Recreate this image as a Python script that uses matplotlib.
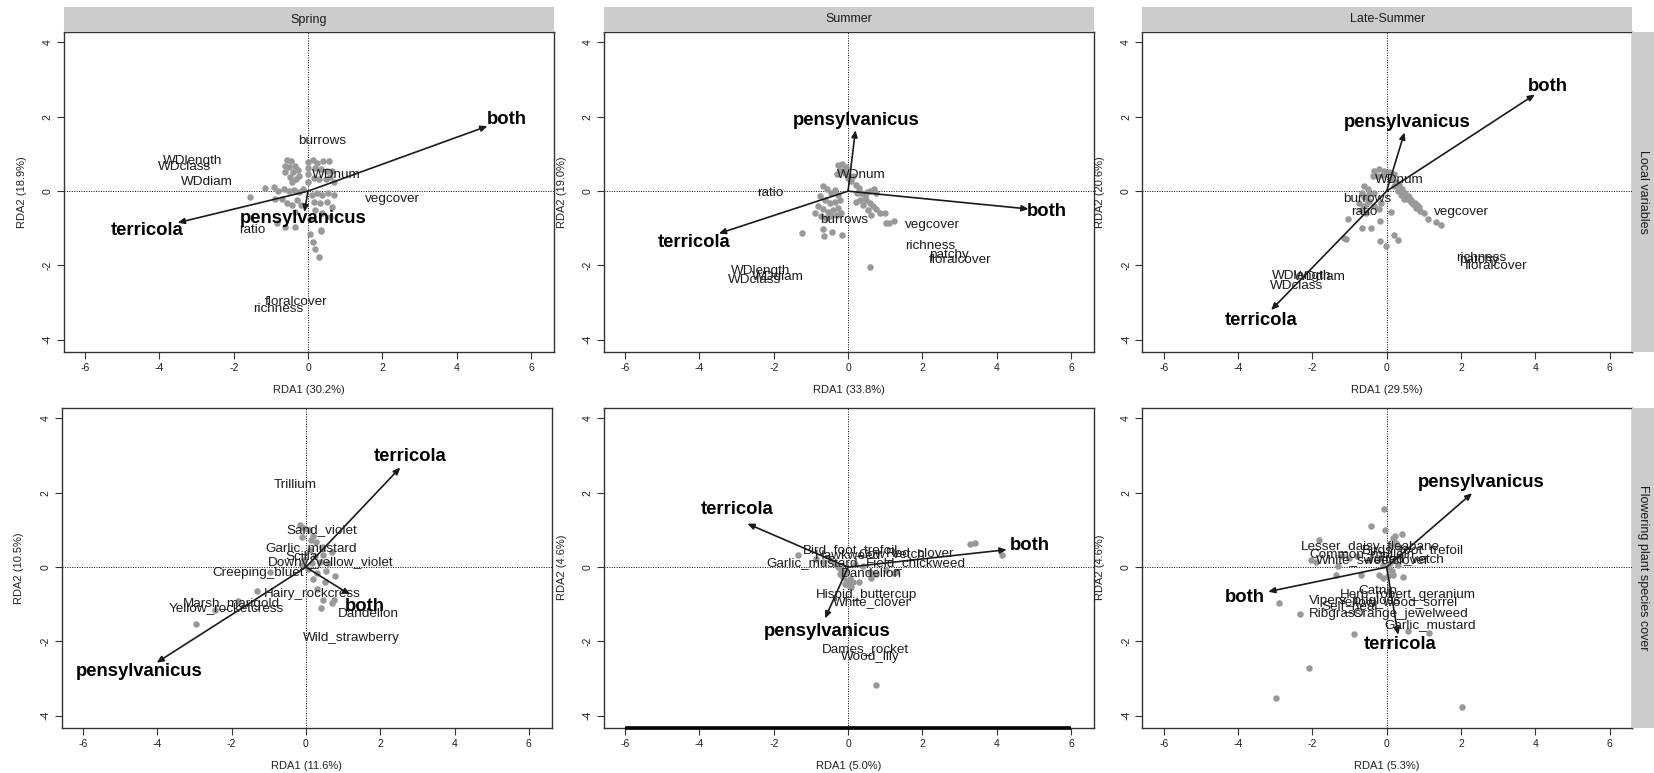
import matplotlib
matplotlib.use("Agg")
import matplotlib.pyplot as plt

plt.rcParams['font.family'] = ['Liberation Sans', 'DejaVu Sans']
plt.rcParams['axes.unicode_minus'] = False

# ---------------- data ----------------
SEASONS = ["Spring", "Summer", "Late-Summer"]
ROW_NAMES = ["Local variables", "Flowering plant species cover"]
XLABELS = [["RDA1 (30.2%)", "RDA1 (33.8%)", "RDA1 (29.5%)"],
           ["RDA1 (11.6%)", "RDA1 (5.0%)", "RDA1 (5.3%)"]]
YLABELS = [["RDA2 (18.9%)", "RDA2 (19.0%)", "RDA2 (20.6%)"],
           ["RDA2 (10.5%)", "RDA2 (4.6%)", "RDA2 (4.6%)"]]
SPECIES = ["terricola", "pensylvanicus", "both"]
XTICKS = [-6, -4, -2, 0, 2, 4, 6]
YTICKS = [-4, -2, 0, 2, 4]

# Panel 1: Spring / local variables
P1_PTS_X = [-0.57,-0.45,-0.63,-0.50,-0.36,-0.61,-0.41,-0.27,-0.48,-0.32,-0.23,-0.43,
            0.0,0.0,0.14,0.24,0.40,0.56,0.20,0.36,0.51,0.65,0.16,0.29,0.47,0.60,0.69,
            -1.55,-1.15,-0.92,-0.81,-0.66,-0.52,-0.37,-0.25,-0.14,
            -0.88,-0.70,-0.57,-0.43,-0.30,-0.18,-0.34,
            0.11,0.24,0.38,0.54,0.69,0.15,0.33,0.51,0.65,0.20,0.38,0.60,
            0.05,0.36,0.04,0.14,0.18,0.29,-0.34,-0.61,-0.83,0.34,0.0,0.0]
P1_PTS_Y = [0.83,0.81,0.68,0.66,0.68,0.52,0.52,0.57,0.37,0.34,0.41,0.25,
            0.79,0.61,0.83,0.77,0.82,0.82,0.63,0.59,0.54,0.54,0.36,0.34,0.34,0.39,0.25,
            -0.15,0.09,0.10,0.01,0.05,0.0,0.04,-0.02,0.07,
            -0.20,-0.22,-0.31,-0.36,-0.24,-0.36,-0.56,
            -0.11,-0.06,-0.11,-0.06,-0.11,-0.29,-0.33,-0.29,-0.42,-0.51,-0.60,-0.69,
            -0.74,-1.05,-1.14,-1.38,-1.56,-1.77,-0.96,-0.96,-0.87,-1.07,0.45,0.25]
P1_ARROW_X = [-3.51, -0.10, 4.83]
P1_ARROW_Y = [-0.85, -0.56, 1.75]
P1_SPLAB_X = [-4.34, -0.14, 5.36]
P1_SPLAB_Y = [-1.07, -0.74, 1.94]
P1_VARS = ["burrows", "WDlength", "WDclass", "WDdiam", "WDnum", "vegcover", "ratio",
           "floralcover", "richness"]
P1_VAR_X = [0.38, -3.11, -3.32, -2.72, 0.77, 2.27, -1.51, -0.31, -0.81]
P1_VAR_Y = [1.35, 0.82, 0.65, 0.25, 0.43, -0.20, -1.05, -2.98, -3.18]

# Panel 2: Summer / local variables
P2_PTS_X = [-0.27,-0.15,-0.06,-0.21,-0.09,-0.31,
            0.09,0.21,0.30,0.36,0.45,0.49,0.58,0.67,0.76,0.85,0.24,0.31,0.40,0.54,0.63,1.03,0.21,
            -0.67,-0.57,-0.45,-0.36,-0.27,-0.76,-0.63,-0.49,-0.36,-0.22,
            -0.81,-0.67,-0.54,-0.40,-0.27,-0.90,-0.72,-0.58,-0.45,-0.31,-0.18,
            -1.24,-0.67,-0.42,-0.66,-0.17,0.58,1.11,1.23,0.99,
            0.0,0.12,0.60,0.75,0.70,0.50]
P2_PTS_Y = [0.71,0.74,0.65,0.57,0.50,0.47,
            0.26,0.17,0.08,-0.05,-0.14,-0.23,-0.32,-0.41,-0.48,-0.59,-0.05,-0.23,-0.37,-0.50,-0.64,-0.86,-0.28,
            0.13,0.05,-0.04,0.04,-0.10,-0.14,-0.23,-0.32,-0.28,-0.23,
            -0.41,-0.48,-0.55,-0.50,-0.46,-0.59,-0.68,-0.73,-0.68,-0.64,-0.59,
            -1.13,-1.02,-1.09,-1.20,-1.19,-2.03,-0.85,-0.81,-0.60,
            0.35,0.42,0.0,-0.05,0.05,-0.02]
P2_ARROW_X = [-3.48, 0.20, 4.86]
P2_ARROW_Y = [-1.14, 1.64, -0.48]
P2_SPLAB_X = [-4.15, 0.22, 5.36]
P2_SPLAB_Y = [-1.39, 1.91, -0.54]
P2_VARS = ["WDnum", "ratio", "burrows", "vegcover", "richness", "patchy", "floralcover",
           "WDlength", "WDdiam", "WDclass"]
P2_VAR_X = [0.37, -2.08, -0.09, 2.27, 2.21, 2.71, 3.01, -2.34, -1.88, -2.51]
P2_VAR_Y = [0.43, -0.04, -0.78, -0.91, -1.47, -1.72, -1.84, -2.14, -2.30, -2.39]

# Panel 3: Late-Summer / local variables
P3_PTS_X = [-0.33,-0.20,-0.06,0.07,-0.38,-0.24,-0.11,0.21,
            0.12,0.25,0.34,0.40,0.49,0.57,0.66,0.75,0.82,0.88,0.21,0.30,0.39,0.48,
            -0.60,-0.51,-0.65,-0.47,-0.33,-0.60,-0.47,-0.74,-0.60,-0.33,-0.15,-0.20,
            -1.03,-0.66,-0.42,-0.17,0.12,-1.10,-0.17,0.21,0.31,-0.03,0.91,1.12,1.32,1.47,1.00,-1.15,
            0.55,0.65,0.70,0.45,0.60,0.80,-0.50,-0.70,-0.55]
P3_PTS_Y = [0.55,0.59,0.55,0.52,0.41,0.40,0.43,0.46,
            0.32,0.25,0.16,0.05,-0.05,-0.14,-0.23,-0.31,-0.38,-0.44,0.14,0.01,-0.11,-0.20,
            0.14,0.05,-0.04,-0.08,-0.05,-0.17,-0.26,-0.31,-0.40,-0.40,-0.31,-0.49,
            -0.76,-1.00,-0.98,-0.80,-0.57,-1.30,-1.34,-1.18,-1.32,-1.48,-0.53,-0.74,-0.83,-0.91,-0.60,-1.25,
            -0.20,-0.30,-0.35,-0.10,-0.15,-0.45,-0.30,-0.50,-0.60]
P3_ARROW_X = [-3.11, 0.48, 3.99]
P3_ARROW_Y = [-3.20, 1.58, 2.60]
P3_SPLAB_X = [-3.37, 0.54, 4.33]
P3_SPLAB_Y = [-3.47, 1.85, 2.81]
P3_VARS = ["WDnum", "burrows", "ratio", "vegcover", "patchy", "richness", "floralcover",
           "WDlength", "WDdiam", "WDclass"]
P3_VAR_X = [0.35, -0.52, -0.59, 2.01, 2.49, 2.56, 2.95, -2.29, -1.80, -2.43]
P3_VAR_Y = [0.31, -0.22, -0.57, -0.57, -1.84, -1.81, -2.01, -2.27, -2.32, -2.56]

# Panel 4: Spring / flowering plant species cover
P4_PTS_X = [-0.17,-0.05,0.08,-0.11,0.13,0.28,0.20,0.42,0.69,0.47,
            0.38,0.25,0.10,-0.05,0.15,0.05,0.78,0.18,0.52,0.31,
            0.47,0.71,0.75,0.40,-1.31,-1.84,-2.96,-2.46,-0.97,-0.11,
            0.55,0.30,0.60]
P4_PTS_Y = [1.13,1.05,1.00,0.82,0.74,0.68,0.85,0.55,0.41,0.32,
            0.14,0.30,0.45,0.20,0.10,-0.05,-0.23,-0.33,-0.41,-0.60,
            -0.89,-0.96,-0.89,-1.11,-0.64,-0.91,-1.53,-1.16,-0.13,0.05,
            -0.10,-0.15,0.10]
P4_ARROW_X = [2.54, -4.02, 1.19]
P4_ARROW_Y = [2.68, -2.57, -0.74]
P4_SPLAB_X = [2.81, -4.48, 1.58]
P4_SPLAB_Y = [2.97, -2.82, -1.07]
P4_VARS = ["Trillium", "Sand_violet", "Garlic_mustard", "Scilla", "Downy_yellow_violet",
           "Creeping_bluet", "Hairy_rockcress", "Marsh_marigold", "Yellow_rocketcress",
           "Dandelion", "Wild_strawberry"]
P4_VAR_X = [-0.29, 0.44, 0.14, -0.12, 0.67, -1.29, 0.18, -2.00, -2.13, 1.68, 1.21]
P4_VAR_Y = [2.21, 1.00, 0.50, 0.28, 0.10, -0.17, -0.71, -0.98, -1.11, -1.27, -1.90]

# Panel 5: Summer / flowering plant species cover
P5_PTS_X = [-0.36,-0.27,-0.18,-0.09,-0.22,-0.13,-0.04,0.04,0.13,-0.09,
            0.0,0.09,0.30,0.58,0.76,1.03,1.30,-0.67,-0.49,-0.85,0.18,0.40,
            -1.34,3.27,3.42,4.14,0.75,0.63,1.23]
P5_PTS_Y = [0.09,0.0,-0.07,-0.13,-0.18,-0.27,-0.36,-0.31,-0.40,-0.45,
            -0.49,-0.54,-0.40,-0.13,-0.18,-0.09,-0.13,0.13,0.18,0.22,0.09,0.04,
            0.34,0.63,0.65,0.33,-3.16,-0.29,-0.16]
P5_ARROW_X = [-2.71, -0.62, 4.27]
P5_ARROW_Y = [1.17, -1.38, 0.47]
P5_SPLAB_X = [-2.99, -0.55, 4.88]
P5_SPLAB_Y = [1.56, -1.73, 0.57]
P5_VARS = ["Bird_foot_trefoil", "Hawkweed", "Cow_vetch", "Red_clover", "Garlic_mustard",
           "Field_chickweed", "Dandelion", "Hispid_buttercup", "White_clover",
           "Dames_rocket", "Wood_lily"]
P5_VAR_X = [0.06, 0.00, 1.18, 1.93, -0.98, 1.83, 0.63, 0.50, 0.65, 0.48, 0.60]
P5_VAR_Y = [0.47, 0.30, 0.36, 0.38, 0.11, 0.11, -0.18, -0.75, -0.94, -2.20, -2.41]

# Panel 6: Late-Summer / flowering plant species cover
P6_PTS_X = [-0.06,-0.42,-0.04,0.23,0.41,0.16,-1.83,0.25,0.12,0.34,
            -2.04,-1.90,-1.32,-1.35,-0.69,-0.20,-0.11,0.03,0.16,0.43,
            -2.91,-2.33,-0.87,-2.08,-2.98,0.57,1.15,2.03,
            0.10,0.20,0.05,0.30,-0.10,0.15,0.35,-0.20,-0.50,-0.80,-1.00,-1.20]
P6_PTS_Y = [1.56,1.10,0.99,0.83,0.90,0.78,0.72,0.65,0.56,0.51,
            0.20,0.15,0.02,-0.21,-0.21,-0.21,-0.30,-0.25,-0.21,-0.27,
            -0.97,-1.26,-1.80,-2.72,-3.53,-1.73,-1.78,-3.77,
            0.10,0.20,-0.05,0.05,0.05,-0.10,0.30,0.25,0.20,0.30,0.25,0.30]
P6_ARROW_X = [0.31, 2.30, -3.19]
P6_ARROW_Y = [-1.82, 1.99, -0.66]
P6_SPLAB_X = [0.36, 2.54, -3.82]
P6_SPLAB_Y = [-2.07, 2.28, -0.81]
P6_VARS = ["Lesser_daisy_fleabane", "Birds_foot_trefoil", "Common_mullein",
           "White_sweetclover", "Tufted_vetch", "Catnip", "Herb_robert_geranium",
           "Vipers_bugloss", "Yellow_wood_sorrel", "Self_heal", "Ribgrass",
           "Orange_jewelweed", "Garlic_mustard"]
P6_VAR_X = [-0.45, 0.71, -0.66, -0.38, 0.52, -0.23, 0.57, -0.85, 0.30, -1.00, -1.38, 0.64, 1.18]
P6_VAR_Y = [0.54, 0.47, 0.35, 0.20, 0.22, -0.63, -0.75, -0.92, -0.95, -1.05, -1.26, -1.26, -1.55]

PANELS = [
    (P1_PTS_X, P1_PTS_Y, P1_ARROW_X, P1_ARROW_Y, P1_SPLAB_X, P1_SPLAB_Y, P1_VARS, P1_VAR_X, P1_VAR_Y),
    (P2_PTS_X, P2_PTS_Y, P2_ARROW_X, P2_ARROW_Y, P2_SPLAB_X, P2_SPLAB_Y, P2_VARS, P2_VAR_X, P2_VAR_Y),
    (P3_PTS_X, P3_PTS_Y, P3_ARROW_X, P3_ARROW_Y, P3_SPLAB_X, P3_SPLAB_Y, P3_VARS, P3_VAR_X, P3_VAR_Y),
    (P4_PTS_X, P4_PTS_Y, P4_ARROW_X, P4_ARROW_Y, P4_SPLAB_X, P4_SPLAB_Y, P4_VARS, P4_VAR_X, P4_VAR_Y),
    (P5_PTS_X, P5_PTS_Y, P5_ARROW_X, P5_ARROW_Y, P5_SPLAB_X, P5_SPLAB_Y, P5_VARS, P5_VAR_X, P5_VAR_Y),
    (P6_PTS_X, P6_PTS_Y, P6_ARROW_X, P6_ARROW_Y, P6_SPLAB_X, P6_SPLAB_Y, P6_VARS, P6_VAR_X, P6_VAR_Y),
]

# ---------------- layout (pixels) ----------------
W, H = 1654, 773
fig = plt.figure(figsize=(W / 100, H / 100), dpi=100)

COL_LEFT = [[63.6, 603.6, 1142.2], [61.5, 603.6, 1142.2]]
AX_W = 490.0
ROW_TOP = [31.7, 407.7]
AX_H = 320.0
XLIM = (-6.58, 6.61)
YLIM = (-4.32, 4.29)
STRIP_TOP = 7.3
RSTRIP_RIGHT = 1654.0

def frac(l, t, r, b):
    return [l / W, 1 - b / H, (r - l) / W, (b - t) / H]

SPINE_C = '#333333'
for row in range(2):
    for col in range(3):
        idx = row * 3 + col
        px, py, ax_x, ax_y, sx, sy, vnames, vx, vy = PANELS[idx]
        l = COL_LEFT[row][col]
        t = ROW_TOP[row]
        r, b = l + AX_W, t + AX_H
        ax = fig.add_axes(frac(l, t, r, b))
        ax.set_xlim(*XLIM)
        ax.set_ylim(*YLIM)
        ax.axhline(0, color='black', lw=0.7, ls=(0, (1, 1.5)), zorder=1)
        ax.axvline(0, color='black', lw=0.7, ls=(0, (1, 1.5)), zorder=1)
        ax.scatter(px, py, s=22, color='#999999', linewidths=0, zorder=2)
        for i, sp in enumerate(SPECIES):
            ax.annotate('', xy=(ax_x[i], ax_y[i]), xytext=(0, 0),
                        arrowprops=dict(arrowstyle='-|>,head_length=0.5,head_width=0.22',
                                        lw=1.2, color='#1a1a1a', shrinkA=0, shrinkB=0,
                                        mutation_scale=8), zorder=3)
        for name, x, y in zip(vnames, vx, vy):
            ax.text(x, y, name, fontsize=9.7, color='#1c1c1c', ha='center', va='center', zorder=4)
        for i, sp in enumerate(SPECIES):
            ax.text(sx[i], sy[i], sp, fontsize=13.3, fontweight='bold', color='black',
                    ha='center', va='center', zorder=5)
        ax.set_xticks(XTICKS)
        ax.set_yticks(YTICKS)
        ax.set_xticklabels([str(v) for v in XTICKS])
        ax.set_yticklabels([str(v) for v in YTICKS], rotation=90, va='center')
        ax.tick_params(direction='out', length=5, width=0.8, labelsize=7.5,
                       color=SPINE_C, labelcolor='#222222', pad=3)
        for sp_ in ax.spines.values():
            sp_.set_color(SPINE_C)
            sp_.set_linewidth(1.0)
        if idx == 4:
            ax.plot([XTICKS[0], XTICKS[-1]], [YLIM[0], YLIM[0]], color='black', lw=2.6,
                    clip_on=False, solid_capstyle='butt', zorder=6)
        # axis labels
        fig.text((l + r) / 2 / W, 1 - (b + 38) / H, XLABELS[row][col], fontsize=8,
                 color='#222222', ha='center', va='center')
        fig.text((l - 42) / W, 1 - (t + b) / 2 / H, YLABELS[row][col], fontsize=8,
                 color='#222222', ha='center', va='center', rotation=90)
        # top strips
        if row == 0:
            sax = fig.add_axes(frac(l, STRIP_TOP, r, t))
            sax.set_facecolor('#cccccc')
            sax.set_xticks([]); sax.set_yticks([])
            for sp_ in sax.spines.values():
                sp_.set_visible(False)
            sax.text(0.5, 0.5, SEASONS[col], transform=sax.transAxes, fontsize=9,
                     color='#1a1a1a', ha='center', va='center')
        # right strips
        if col == 2:
            rax = fig.add_axes(frac(r, t, RSTRIP_RIGHT, b))
            rax.set_facecolor('#cccccc')
            rax.set_xticks([]); rax.set_yticks([])
            for sp_ in rax.spines.values():
                sp_.set_visible(False)
            rax.text(0.5, 0.5, ROW_NAMES[row], transform=rax.transAxes, fontsize=9,
                     color='#1a1a1a', ha='center', va='center', rotation=-90)

fig.savefig('out.png', dpi=100)
